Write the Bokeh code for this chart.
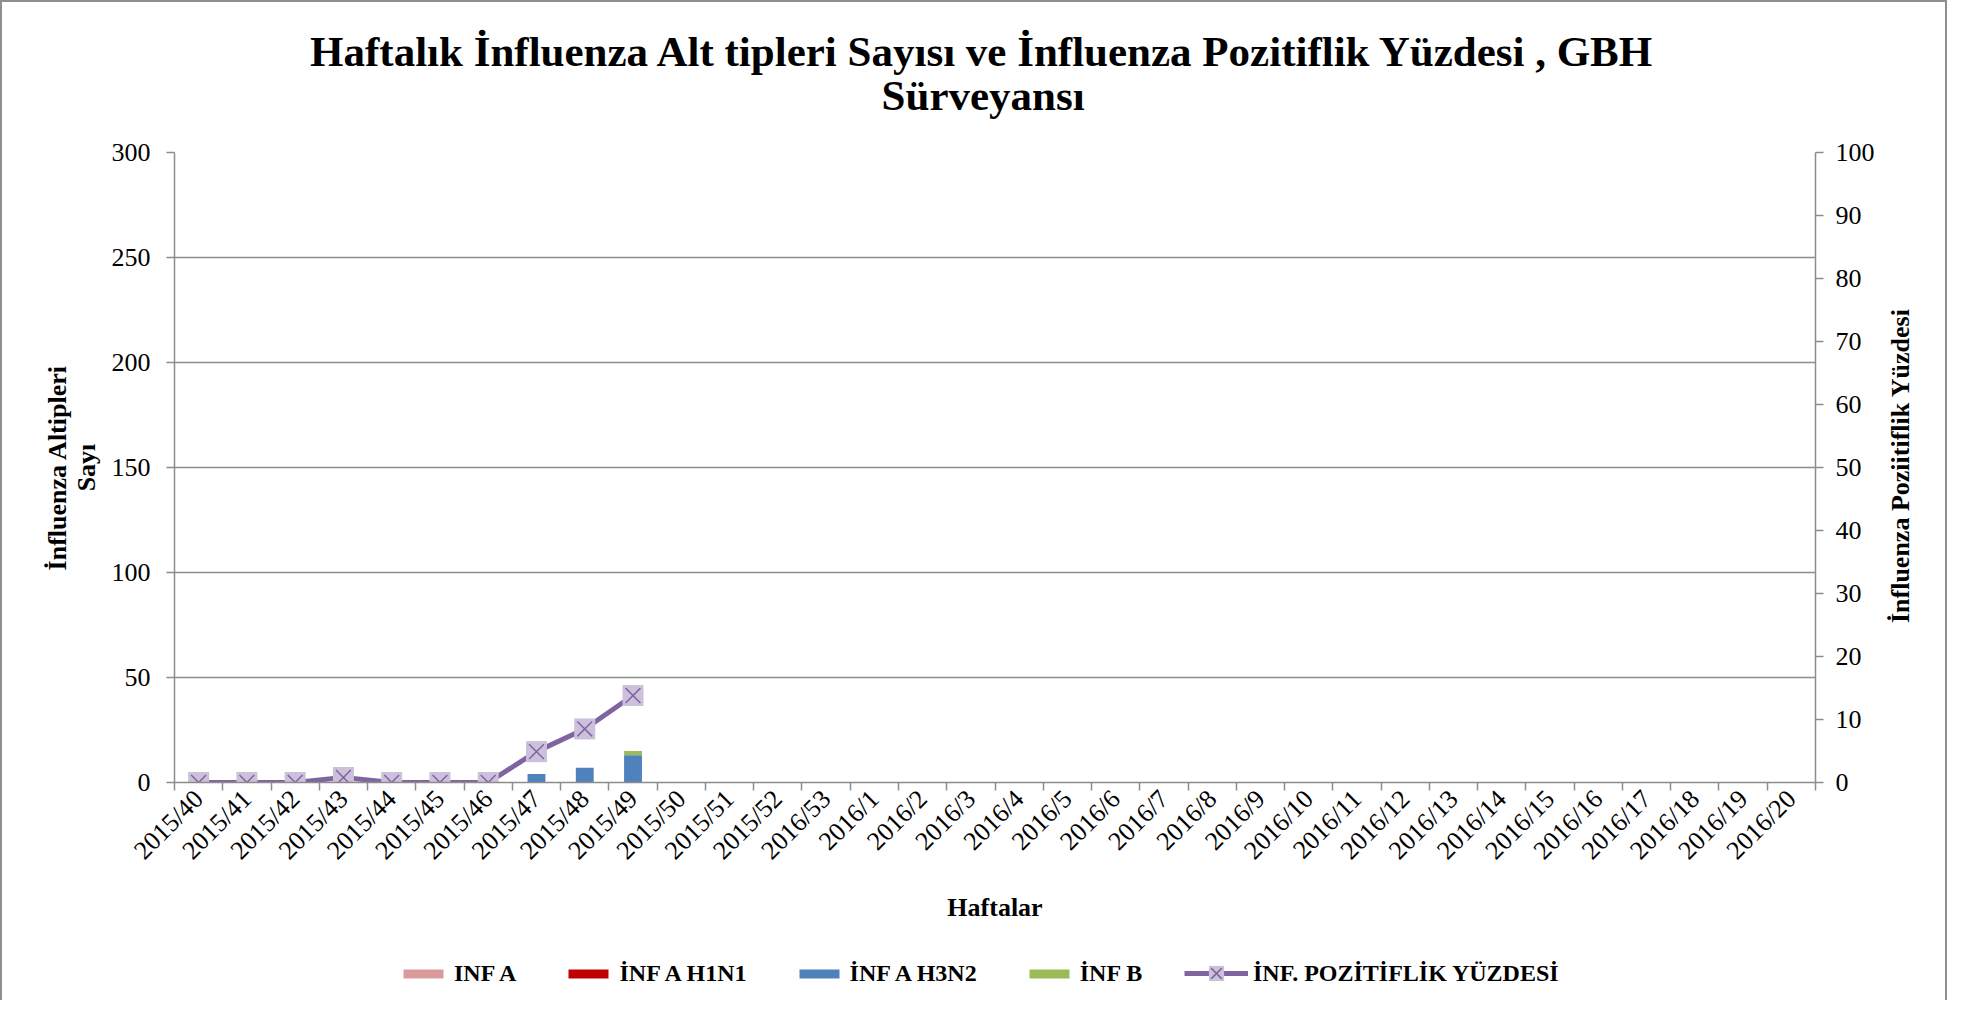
import numpy as np
from math import pi
from bokeh.plotting import figure
from bokeh.layouts import column, row
from bokeh.models import (Range1d, LinearAxis, FixedTicker, Legend, LegendItem,
                          Label, ColumnDataSource)
from bokeh.embed import file_html
from bokeh.resources import INLINE

weeks = ["2015/40", "2015/41", "2015/42", "2015/43", "2015/44", "2015/45", "2015/46",
         "2015/47", "2015/48", "2015/49", "2015/50", "2015/51", "2015/52", "2016/53",
         "2016/1", "2016/2", "2016/3", "2016/4", "2016/5", "2016/6", "2016/7", "2016/8",
         "2016/9", "2016/10", "2016/11", "2016/12", "2016/13", "2016/14", "2016/15",
         "2016/16", "2016/17", "2016/18", "2016/19", "2016/20"]

N = None
inf_a = [0, 0, 0, 0, 0, 0, 0, 0, 0, 0, N, N, N, N, N, N, N, N, N, N, N, N, N, N, N, N, N, N, N, N, N, N, N, N]
inf_a_h1n1 = [0, 0, 0, 0, 0, 0, 0, 0, 0, 0, N, N, N, N, N, N, N, N, N, N, N, N, N, N, N, N, N, N, N, N, N, N, N, N]
inf_a_h3n2 = [0, 0, 0, 0, 0, 0, 0, 4, 7, 13, N, N, N, N, N, N, N, N, N, N, N, N, N, N, N, N, N, N, N, N, N, N, N, N]
inf_b = [0, 0, 0, 0, 0, 0, 0, 0, 0, 2, N, N, N, N, N, N, N, N, N, N, N, N, N, N, N, N, N, N, N, N, N, N, N, N]
pozitiflik = [0, 0, 0, 0.8, 0, 0, 0, 4.9, 8.5, 13.8, N, N, N, N, N, N, N, N, N, N, N, N, N, N, N, N, N, N, N, N, N, N, N, N]

left_ticks = [0, 50, 100, 150, 200, 250, 300]
right_ticks = [0, 10, 20, 30, 40, 50, 60, 70, 80, 90, 100]

title_lines = ["Haftalık İnfluenza Alt tipleri Sayısı ve İnfluenza Pozitiflik Yüzdesi , GBH",
               "Sürveyansı"]
series_names = ["INF A", "İNF A H1N1", "İNF A H3N2", "İNF B"]
line_name = "İNF. POZİTİFLİK YÜZDESİ"
bar_colors = ["#DB9A9A", "#C00000", "#4F81BD", "#9BBB59"]
LINE_C = "#8064A2"
MARK_FILL = "#CCC1DA"

FONT = "Liberation Serif"
GRAY = "#8c8c8c"
W = 1943

def arr(v):
    return np.array([np.nan if e is None else e for e in v], dtype=float)

def blank(width, height, **kw):
    f = figure(width=width, height=height, x_range=Range1d(0, 1), y_range=Range1d(0, 1),
               output_backend="svg", toolbar_location=None, x_axis_location=None,
               y_axis_location=None, min_border=0, title=None, **kw)
    f.outline_line_color = None
    f.xgrid.grid_line_color = None
    f.ygrid.grid_line_color = None
    return f

# ---------- header with the two-line title ----------
header = blank(W, 120)
header.add_layout(Label(x=0.5047, y=0.588, text=title_lines[0], text_align="center",
                        text_baseline="middle", text_font=FONT, text_font_style="bold",
                        text_font_size="43px", text_color="black"))
header.add_layout(Label(x=0.5047, y=0.222, text=title_lines[1], text_align="center",
                        text_baseline="middle", text_font=FONT, text_font_style="bold",
                        text_font_size="43px", text_color="black"))

# ---------- main chart ----------
xc = np.arange(len(weeks)) + 0.5
src = ColumnDataSource(dict(x=xc, inf_a=arr(inf_a), h1n1=arr(inf_a_h1n1),
                            h3n2=arr(inf_a_h3n2), infb=arr(inf_b), pct=arr(pozitiflik)))

R = 62
p = figure(width=172 + 1641 + R, height=30 + 630 + 150,
           x_range=Range1d(0, len(weeks)), y_range=Range1d(0, 300),
           output_backend="svg", toolbar_location=None, title=None,
           min_border_left=172, min_border_right=R, min_border_top=30, min_border_bottom=150)
p.outline_line_color = None
p.extra_y_ranges = {"pct": Range1d(0, 100)}

p.vbar_stack(["inf_a", "h1n1", "h3n2", "infb"], x="x", width=0.37, source=src,
             color=bar_colors, line_color=None)
p.line("x", "pct", source=src, y_range_name="pct", line_color=LINE_C, line_width=5)
p.scatter("x", "pct", source=src, y_range_name="pct", marker="square", size=21,
          fill_color=MARK_FILL, line_color=None)
p.scatter("x", "pct", source=src, y_range_name="pct", marker="x", size=21,
          line_color=LINE_C, line_width=1.5)

xa = p.xaxis[0]
xa.ticker = FixedTicker(ticks=list(xc), minor_ticks=list(range(len(weeks) + 1)))
xa.major_label_overrides = {float(v): w for v, w in zip(xc, weeks)}
xa.major_label_orientation = pi / 4
xa.major_tick_out = 0
xa.major_tick_in = 0
xa.minor_tick_out = 8
xa.minor_tick_in = 0
xa.minor_tick_line_color = GRAY
xa.minor_tick_line_width = 1.5
xa.axis_line_color = GRAY
xa.axis_line_width = 1.5
xa.major_label_text_font = FONT
xa.major_label_text_font_size = "26px"
xa.major_label_text_color = "black"
xa.major_label_standoff = 4
xa.axis_label = "Haftalar"
xa.axis_label_text_font = FONT
xa.axis_label_text_font_style = "bold"
xa.axis_label_text_font_size = "26px"
xa.axis_label_text_color = "black"
xa.axis_label_standoff = 15

ya = p.yaxis[0]
ya.ticker = FixedTicker(ticks=left_ticks)
ya.minor_tick_line_color = None
ya.major_tick_out = 8
ya.major_tick_in = 0
ya.major_tick_line_color = GRAY
ya.major_tick_line_width = 1.5
ya.axis_line_color = GRAY
ya.axis_line_width = 1.5
ya.major_label_text_font = FONT
ya.major_label_text_font_size = "26px"
ya.major_label_text_color = "black"
ya.major_label_standoff = 16
ya.axis_label = "İnfluenza Altipleri\nSayı"
ya.axis_label_text_font = FONT
ya.axis_label_text_font_style = "bold"
ya.axis_label_text_font_size = "26px"
ya.axis_label_text_color = "black"
ya.axis_label_text_line_height = 1.0
ya.axis_label_standoff = 8

ra = LinearAxis(y_range_name="pct", ticker=FixedTicker(ticks=right_ticks))
ra.minor_tick_line_color = None
ra.major_tick_out = 8
ra.major_tick_in = 0
ra.major_tick_line_color = GRAY
ra.major_tick_line_width = 1.5
ra.axis_line_color = GRAY
ra.axis_line_width = 1.5
ra.major_label_text_font = FONT
ra.major_label_text_font_size = "26px"
ra.major_label_text_color = "black"
ra.major_label_standoff = 12
p.add_layout(ra, "right")

p.xgrid.grid_line_color = None
p.ygrid.ticker = FixedTicker(ticks=left_ticks)
p.ygrid.grid_line_color = GRAY
p.ygrid.grid_line_width = 1.5

# ---------- right-hand axis title (reads bottom to top) ----------
side = blank(W - (172 + 1641 + R), 30 + 630 + 150)
side.add_layout(Label(x=0.338, y=0.503, text="İnfluenza Poziitiflik Yüzdesi", angle=pi / 2,
                      text_align="center", text_baseline="middle", text_font=FONT,
                      text_font_style="bold", text_font_size="26px", text_color="black"))

# ---------- legend (two legends: bar swatches, and line+marker) ----------
leg = blank(W, 68)
lr = [leg.vbar(x=[-1], top=[-1], width=0.5, color=c, line_color=None) for c in bar_colors]
l_line = leg.line(x=[-2, -1], y=[-1, -1], line_color=LINE_C, line_width=5)
l_sq = leg.scatter(x=[-1], y=[-1], marker="square", size=16, fill_color=MARK_FILL, line_color=None)
l_x = leg.scatter(x=[-1], y=[-1], marker="x", size=16, line_color=LINE_C, line_width=1.5)

common = dict(orientation="horizontal", label_text_font=FONT, label_text_font_style="bold",
              label_text_font_size="24px", label_text_color="black",
              border_line_color=None, background_fill_alpha=0, padding=0, margin=0)
legend_a = Legend(items=[LegendItem(label=n, renderers=[r]) for n, r in zip(series_names, lr)],
                  location=(396, 13), glyph_width=50, glyph_height=11, spacing=47,
                  label_standoff=6, **common)
legend_b = Legend(items=[LegendItem(label=line_name, renderers=[l_line, l_sq, l_x])],
                  location=(1182, 8), glyph_width=64, glyph_height=38, spacing=0,
                  label_standoff=5, **common)
leg.add_layout(legend_a, "center")
leg.add_layout(legend_b, "center")

layout = column(header, row(p, side), leg,
                styles={"border-left": "2px solid #8f8f8f", "border-top": "2px solid #8f8f8f",
                        "border-right": "2px solid #8f8f8f"})

open("out.html", "w").write(file_html(layout, INLINE))
